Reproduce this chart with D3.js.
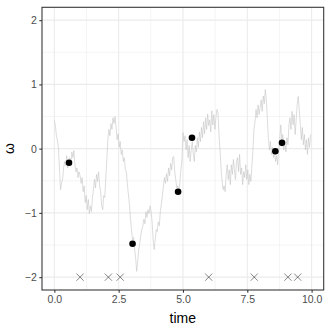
<!DOCTYPE html>
<html>
<head>
<meta charset="utf-8">
<script src="https://cdn.jsdelivr.net/npm/d3@7"></script>
<style>
  body { margin: 0; background: #fff; }
  svg { font-family: "Liberation Sans", Arial, sans-serif; }
</style>
</head>
<body>
<svg id="chart" width="332" height="332"></svg>
<script>
// simulated path, sampled every dt time units starting at 0
var dt = 0.04;
var omegaPath = [
  0.44, 0.36, 0.20, 0.12, 0.02, -0.33, -0.64, -0.54, -0.47, -0.30,
  -0.20, -0.26, -0.11, -0.30, -0.17, -0.14, -0.26, -0.05, -0.14, -0.03,
  -0.25, -0.36, -0.30, -0.45, -0.36, -0.42, -0.54, -0.45, -0.67, -0.58,
  -0.84, -0.73, -0.95, -0.79, -1.01, -0.89, -0.98, -0.76, -0.64, -0.48,
  -0.61, -0.40, -0.51, -0.36, -0.58, -0.67, -0.89, -0.95, -0.73, -0.76,
  -0.45, -0.17, 0.14, 0.30, 0.20, 0.39, 0.30, 0.48, 0.39, 0.50,
  0.33, 0.14, 0.23, 0.02, 0.11, -0.09, -0.02, -0.20, -0.14, -0.33,
  -0.36, -0.56, -0.72, -0.87, -1.10, -1.26, -1.42, -1.38, -1.57, -1.70,
  -1.91, -1.76, -1.57, -1.48, -1.35, -1.26, -1.20, -1.10, -1.17, -0.98,
  -1.07, -0.95, -1.01, -0.89, -0.98, -1.14, -1.42, -1.57, -1.42, -1.26,
  -1.29, -1.14, -1.20, -0.98, -0.86, -0.73, -0.58, -0.45, -0.54, -0.39,
  -0.51, -0.30, -0.42, -0.23, -0.33, -0.14, -0.12, -0.36, -0.48, -0.61,
  -0.58, -0.68, -0.51, -0.33, -0.17, 0.25, 0.11, 0.20, -0.02, 0.14,
  -0.14, 0.05, -0.20, -0.02, 0.11, -0.09, -0.20, 0.05, -0.05, 0.17,
  0.02, 0.26, 0.11, 0.33, 0.17, 0.42, 0.23, 0.48, 0.30, 0.54,
  0.36, 0.45, 0.26, 0.59, 0.37, 0.53, 0.30, 0.48, 0.61, 0.56,
  0.22, -0.02, -0.30, -0.51, -0.64, -0.58, -0.67, -0.40, -0.25, -0.48,
  -0.33, -0.56, -0.25, -0.40, -0.17, -0.33, -0.48, -0.20, -0.14, -0.36,
  -0.09, -0.40, -0.30, -0.56, -0.36, -0.45, -0.25, -0.48, -0.33, -0.56,
  -0.40, -0.51, -0.25, -0.02, 0.30, 0.42, 0.61, 0.48, 0.68, 0.53,
  0.64, 0.76, 0.58, 0.82, 0.70, 0.92, 0.76, 0.45, 0.17, -0.02,
  0.11, -0.09, 0.02, -0.14, -0.05, -0.20, -0.11, -0.25, -0.02, 0.14,
  0.37, 0.14, 0.22, -0.02, 0.11, -0.05, 0.17, 0.06, 0.37, 0.48,
  0.30, 0.58, 0.37, 0.53, 0.22, 0.45, 0.68, 0.81, 0.61, 0.37,
  0.14, 0.33, 0.06, 0.22, -0.02, 0.14, -0.09, 0.17, 0.02, 0.22
];

// observed points
var obsTime = [0.57, 3.04, 4.81, 5.35, 8.59, 8.85];
var obsOmega = [-0.22, -1.48, -0.67, 0.17, -0.04, 0.09];

// event times, drawn as crosses at the bottom
var eventTime = [1.0, 2.1, 2.56, 6.0, 7.77, 9.08, 9.46];
var eventLevel = -2;

var xTicks = [0, 2.5, 5, 7.5, 10];
var xMinor = [1.25, 3.75, 6.25, 8.75];
var yTicks = [-2, -1, 0, 1, 2];
var yMinor = [-1.5, -0.5, 0.5, 1.5];

var margin = {left: 42, top: 7.3, right: 8.3, bottom: 42};
var width = 332, height = 332;

var svg = d3.select("#chart");

var x = d3.scaleLinear()
    .domain([-0.48, 10.47])
    .range([margin.left, width - margin.right]);

var y = d3.scaleLinear()
    .domain([-2.2, 2.2])
    .range([height - margin.bottom, margin.top]);

var pathData = omegaPath.map(function(w, i) { return {t: i * dt, w: w}; });
var points = obsTime.map(function(t, i) { return {t: t, w: obsOmega[i]}; });

// grid
var grid = svg.append("g");
grid.selectAll(".xminor").data(xMinor).enter().append("line")
    .attr("x1", d => x(d)).attr("x2", d => x(d))
    .attr("y1", y.range()[0]).attr("y2", y.range()[1])
    .attr("stroke", "#ebebeb").attr("stroke-width", 0.55);
grid.selectAll(".yminor").data(yMinor).enter().append("line")
    .attr("y1", d => y(d)).attr("y2", d => y(d))
    .attr("x1", x.range()[0]).attr("x2", x.range()[1])
    .attr("stroke", "#ebebeb").attr("stroke-width", 0.55);
grid.selectAll(".xmajor").data(xTicks).enter().append("line")
    .attr("x1", d => x(d)).attr("x2", d => x(d))
    .attr("y1", y.range()[0]).attr("y2", y.range()[1])
    .attr("stroke", "#ebebeb").attr("stroke-width", 1.1);
grid.selectAll(".ymajor").data(yTicks).enter().append("line")
    .attr("y1", d => y(d)).attr("y2", d => y(d))
    .attr("x1", x.range()[0]).attr("x2", x.range()[1])
    .attr("stroke", "#ebebeb").attr("stroke-width", 1.1);

// path
var line = d3.line()
    .x(d => x(d.t))
    .y(d => y(d.w));

svg.append("path")
    .datum(pathData)
    .attr("d", line)
    .attr("fill", "none")
    .attr("stroke", "#c4c4c4")
    .attr("stroke-width", 0.6);

// crosses
var cs = 3.6;
svg.append("g").selectAll("path")
    .data(eventTime)
    .enter()
    .append("path")
    .attr("d", function(t) {
        var cx = x(t), cy = y(eventLevel);
        return "M" + (cx - cs) + "," + (cy - cs) + "L" + (cx + cs) + "," + (cy + cs) +
               "M" + (cx - cs) + "," + (cy + cs) + "L" + (cx + cs) + "," + (cy - cs);
    })
    .attr("stroke", "#333")
    .attr("stroke-width", 0.6)
    .attr("fill", "none");

// points
svg.append("g").selectAll("circle")
    .data(points)
    .enter()
    .append("circle")
    .attr("cx", d => x(d.t))
    .attr("cy", d => y(d.w))
    .attr("r", 3.3)
    .attr("fill", "black");

// panel border
svg.append("rect")
    .attr("x", x.range()[0])
    .attr("y", y.range()[1])
    .attr("width", x.range()[1] - x.range()[0])
    .attr("height", y.range()[0] - y.range()[1])
    .attr("fill", "none")
    .attr("stroke", "#333")
    .attr("stroke-width", 1.07);

// axes
var xAxis = svg.append("g")
    .attr("transform", "translate(0," + y.range()[0] + ")")
    .call(d3.axisBottom(x).tickValues(xTicks).tickFormat(d3.format(".1f")).tickSize(2.7).tickPadding(2.5));
var yAxis = svg.append("g")
    .attr("transform", "translate(" + x.range()[0] + ",0)")
    .call(d3.axisLeft(y).tickValues(yTicks).tickFormat(d => d < 0 ? "\u2212" + Math.abs(d) : d).tickSize(2.7).tickPadding(2.5));

[xAxis, yAxis].forEach(function(a) {
    a.select(".domain").remove();
    a.selectAll(".tick line").attr("stroke", "#333").attr("stroke-width", 1.07);
    a.selectAll(".tick text")
        .attr("fill", "#4d4d4d")
        .style("font-size", "10.5px")
        .style("font-family", "Liberation Sans, Arial, sans-serif");
});

// axis titles
svg.append("text")
    .attr("x", (x.range()[0] + x.range()[1]) / 2)
    .attr("y", 322.5)
    .attr("text-anchor", "middle")
    .style("font-size", "14px")
    .attr("fill", "black")
    .text("time");

svg.append("text")
    .attr("transform", "translate(14," + ((y.range()[0] + y.range()[1]) / 2) + ") rotate(-90)")
    .attr("text-anchor", "middle")
    .style("font-size", "14px")
    .attr("fill", "black")
    .text("\u03c9");
</script>
</body>
</html>
